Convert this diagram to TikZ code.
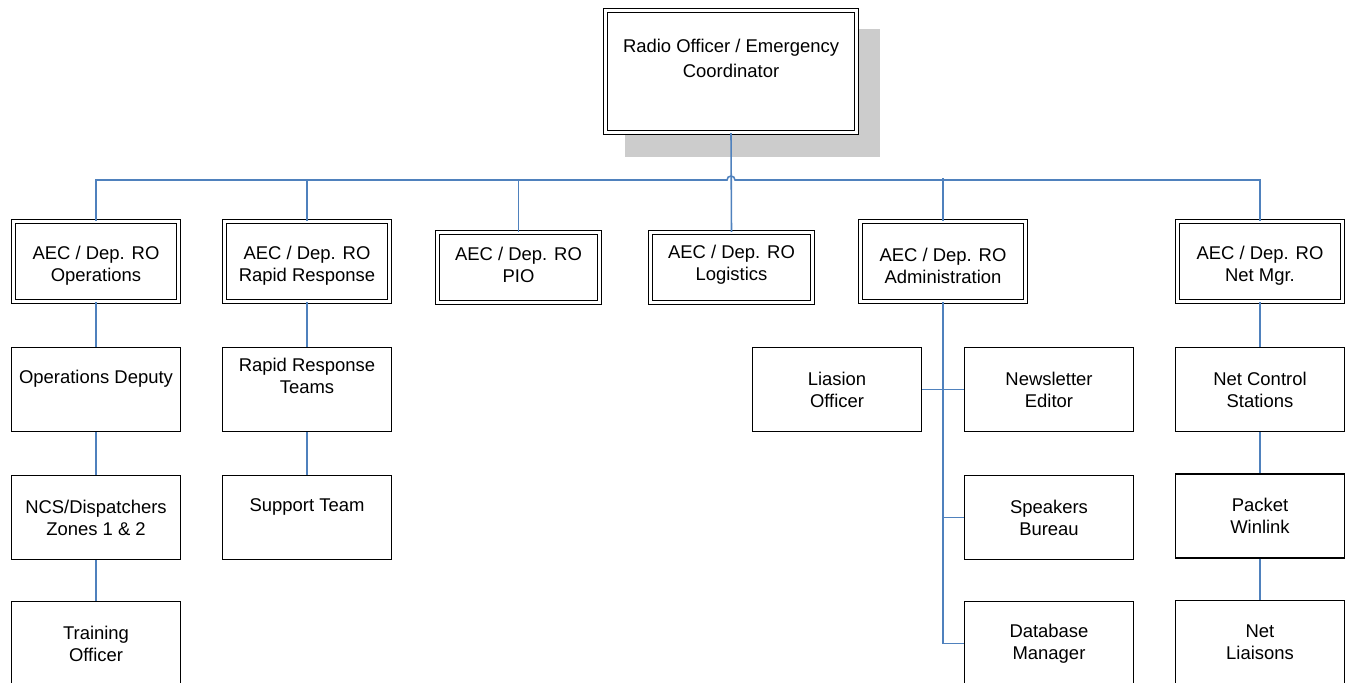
\documentclass[tikz,border=0pt]{standalone}
\usepackage{fontspec}
\setmainfont{Liberation Sans}
\usepackage{tikz}
\definecolor{linkblue}{HTML}{4F81BD}
\definecolor{shadowgray}{HTML}{CCCCCC}

\begin{document}
\begin{tikzpicture}[x=0.02cm, y=-0.02cm,
  every node/.style={align=center, font=\fontsize{10.5}{12.5}\selectfont, inner sep=0pt},
  box/.style={draw, line width=0.8pt, fill=white, minimum width=3.38cm, minimum height=1.68cm},
  headbox/.style={draw, line width=0.7pt, double=white, double distance=1.3pt, fill=white, minimum width=3.3cm, minimum height=1.6cm, text height=25pt},
  lift/.style={text depth=#1},
  link/.style={draw=linkblue, line width=0.9pt}]
\useasboundingbox (0,0) rectangle (1347,683);

\fill[shadowgray] (625,29) rectangle (880,157);
\node[headbox, minimum width=5.02cm, minimum height=2.44cm, text height={}, lift=15pt,
  font=\fontsize{10.5}{14}\selectfont] (ro) at (731,71.5) {Radio Officer / Emergency\\Coordinator};

\node[headbox] (ops) at (96,261.5) {AEC / Dep. RO\\Operations};
\node[headbox] (rr) at (307,261.5) {AEC / Dep. RO\\Rapid Response};
\node[headbox, minimum width=3.24cm, minimum height=1.4cm, text height=17pt] (pio) at (518.5,267.5) {AEC / Dep. RO\\PIO};
\node[headbox, minimum width=3.24cm, minimum height=1.4cm, text height=17pt] (log) at (731.5,267.5) {AEC / Dep. RO\\Logistics};
\node[headbox] (adm) at (943,261.5) {AEC / Dep. RO\\Administration};
\node[headbox] (net) at (1260,261.5) {AEC / Dep. RO\\Net Mgr.};

\node[box, lift=14pt] (opd) at (96,389.5) {Operations Deputy};
\node[box] (ncs) at (96,517.5) {NCS/Dispatchers\\Zones 1 \& 2};
\node[box] (trn) at (96,643.5) {Training\\Officer};

\node[box, lift=16pt] (rrt) at (307,389.5) {Rapid Response\\Teams};
\node[box, lift=14pt] (sup) at (307,517.5) {Support Team};

\node[box] (lia) at (837,389.5) {Liasion\\Officer};
\node[box] (nws) at (1049,389.5) {Newsletter\\Editor};
\node[box] (spk) at (1049,517.5) {Speakers\\Bureau};
\node[box] (dbm) at (1049,643.5) {Database\\Manager};

\node[box] (ncst) at (1260,389.5) {Net Control\\Stations};
\node[box] (pkt) at (1260,516) {Packet\\Winlink};
\node[box] (nli) at (1260,642.5) {Net\\Liaisons};

\coordinate (bus) at (731,180);

% bus from the top
\draw[link] (ro.south) -- (log.north);
\draw[link] (ops.north) -- (ops.north |- bus) -- ([xshift=-0.08cm]bus) arc (180:360:4) -- (net.north |- bus) -- (net.north);
\draw[link] (rr.north) -- (rr.north |- bus);
\draw[link] (pio.north) -- (pio.north |- bus);
\draw[link] (adm.north) -- ([yshift=0.04cm]adm.north |- bus);

% columns
\draw[link] (ops.south) -- (opd.north);
\draw[link] (opd.south) -- (ncs.north);
\draw[link] (ncs.south) -- (trn.north);
\draw[link] (rr.south) -- (rrt.north);
\draw[link] (rrt.south) -- (sup.north);
\draw[link] (net.south) -- (ncst.north);
\draw[link] (ncst.south) -- (pkt.north);
\draw[link] (pkt.south) -- (nli.north);

% administration staff
\draw[link] (adm.south) |- (dbm.west);
\draw[link] (lia.east) -- (nws.west);
\draw[link] (spk.west) -- (spk.west -| adm.south);
\end{tikzpicture}
\end{document}
